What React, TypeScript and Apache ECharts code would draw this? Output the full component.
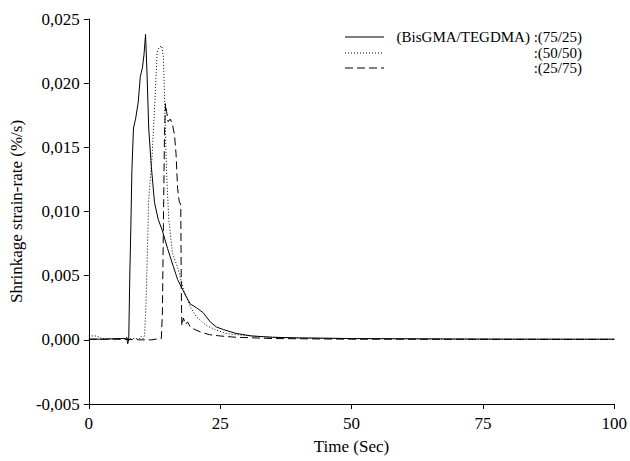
import React, { useEffect, useRef } from "react";
import * as echarts from "echarts";

// Time (s) and shrinkage strain-rate (%/s) for each BisGMA/TEGDMA ratio
const time75 = [0, 3, 6, 7.0, 7.2, 7.4, 7.6, 7.8, 8.0, 8.2, 8.5, 8.9, 9.4, 9.8, 10.2, 10.5, 10.8, 11.1, 11.4, 11.9, 12.5, 13.2, 14.0, 15.0, 16.1, 16.9, 17.5, 18.5, 19.3, 20.5, 21.8, 23.1, 24.3, 25.6, 28, 31, 35, 40, 50, 60, 70, 80, 90, 100];
const rate75 = [0.00005, 0.00005, 0.0001, 0.0001, 0.0002, -0.0003, 0.0, 0.005, 0.0088, 0.0132, 0.0165, 0.0172, 0.0185, 0.0205, 0.0212, 0.0222, 0.0238, 0.0205, 0.0165, 0.0135, 0.0107, 0.0094, 0.0085, 0.0071, 0.0057, 0.0047, 0.0042, 0.0034, 0.0028, 0.0025, 0.0021, 0.0014, 0.001, 0.0008, 0.0005, 0.0003, 0.0002, 0.00015, 0.0001, 0.00008, 0.00006, 0.00005, 0.00005, 0.00005];

const time50 = [0, 1.5, 2.5, 5, 8, 9.7, 10.0, 10.3, 10.6, 10.9, 11.4, 12.0, 12.6, 13.0, 13.4, 13.9, 14.2, 14.5, 14.8, 15.2, 15.9, 17, 18.1, 19.4, 20.5, 21.5, 22.5, 24, 26, 28, 31, 35, 40, 50, 60, 70, 80, 90, 100];
const rate50 = [0.0003, 0.0003, 0.0001, 0.0001, 0.0001, 0.0001, 0.0003, 0.0001, 0.0003, 0.003, 0.0109, 0.014, 0.0187, 0.0224, 0.0228, 0.0229, 0.022, 0.0175, 0.013, 0.0095, 0.0068, 0.0055, 0.0038, 0.0025, 0.0018, 0.0014, 0.0011, 0.0008, 0.0005, 0.0004, 0.0003, 0.0002, 0.00015, 0.0001, 0.0001, 0.00008, 0.00006, 0.00005, 0.00005];

const time25 = [0, 5, 10, 12, 13.4, 13.8, 14.0, 14.2, 14.4, 14.6, 14.8, 15.1, 15.5, 15.9, 16.3, 16.6, 16.9, 17.2, 17.5, 17.6, 17.7, 18.0, 18.4, 18.8, 19.3, 20.2, 21.3, 23, 25, 28, 35, 50, 70, 100];
const rate25 = [0.00005, 0.00005, 0.0, 0.0, 0.0001, 0.0001, 0.002, 0.009, 0.016, 0.0184, 0.0178, 0.017, 0.0172, 0.0168, 0.016, 0.0145, 0.0118, 0.0108, 0.0105, 0.004, 0.0011, 0.0017, 0.0012, 0.0014, 0.001, 0.0008, 0.0006, 0.0004, 0.0003, 0.0002, 0.0001, 0.00005, 0.00004, 0.00003];

const legendLabels = ["(BisGMA/TEGDMA) :(75/25)", ":(50/50)", ":(25/75)"];

const FONT = "Liberation Serif";

const pairs = (t: number[], v: number[]) => t.map((x, i) => [x, v[i]]);

export default function App() {
  const ref = useRef<HTMLDivElement>(null);
  useEffect(() => {
    if (!ref.current) return;
    const chart = echarts.init(ref.current, null, { renderer: "svg" });
    const fmt = (v: number) => v.toFixed(3).replace(".", ",");
    const legendY = [37, 53, 68];
    const dashes: (number[] | undefined)[] = [undefined, [1, 2], [8, 4]];
    const graphic: any[] = [];
    legendLabels.forEach((lab, i) => {
      graphic.push({
        type: "line",
        shape: { x1: 345, y1: legendY[i], x2: 384, y2: legendY[i] },
        style: { stroke: "#000", lineWidth: 1, lineDash: dashes[i] },
      });
      graphic.push({
        type: "text",
        x: 582,
        y: legendY[i],
        style: {
          text: lab,
          fill: "#000",
          fontSize: 15,
          fontFamily: FONT,
          textAlign: "right",
          textVerticalAlign: "middle",
        },
      });
    });
    chart.setOption({
      animation: false,
      backgroundColor: "#fff",
      textStyle: { fontFamily: FONT, color: "#000" },
      grid: { left: 83, right: 15, top: 19, bottom: 57 },
      xAxis: {
        type: "value",
        min: 0,
        max: 100,
        interval: 25,
        name: "Time (Sec)",
        nameLocation: "middle",
        nameGap: 34,
        nameTextStyle: { fontSize: 17, fontFamily: FONT, color: "#000" },
        axisLine: { onZero: false, lineStyle: { color: "#000", width: 1 } },
        axisTick: { show: true, length: 5, lineStyle: { color: "#000" } },
        axisLabel: { fontSize: 17, fontFamily: FONT, color: "#000", margin: 11 },
        splitLine: { show: false },
      },
      yAxis: {
        type: "value",
        min: -0.005,
        max: 0.025,
        interval: 0.005,
        name: "Shrinkage strain-rate (%/s)",
        nameLocation: "middle",
        nameGap: 62,
        nameTextStyle: { fontSize: 17, fontFamily: FONT, color: "#000" },
        axisLine: { show: true, lineStyle: { color: "#000", width: 1 } },
        axisTick: { show: true, length: 5, lineStyle: { color: "#000" } },
        axisLabel: { fontSize: 17, fontFamily: FONT, color: "#000", margin: 9, formatter: fmt },
        splitLine: { show: false },
      },
      graphic,
      series: [
        {
          type: "line",
          name: legendLabels[0],
          data: pairs(time75, rate75),
          showSymbol: false,
          lineStyle: { color: "#000", width: 1 },
        },
        {
          type: "line",
          name: legendLabels[1],
          data: pairs(time50, rate50),
          showSymbol: false,
          lineStyle: { color: "#000", width: 1, type: [1, 2] },
        },
        {
          type: "line",
          name: legendLabels[2],
          data: pairs(time25, rate25),
          showSymbol: false,
          lineStyle: { color: "#000", width: 1, type: [8, 4] },
        },
      ],
    });
    return () => chart.dispose();
  }, []);
  return (
    <div
      ref={ref}
      style={{ position: "fixed", left: 0, top: 0, width: 630, height: 461 }}
    />
  );
}
